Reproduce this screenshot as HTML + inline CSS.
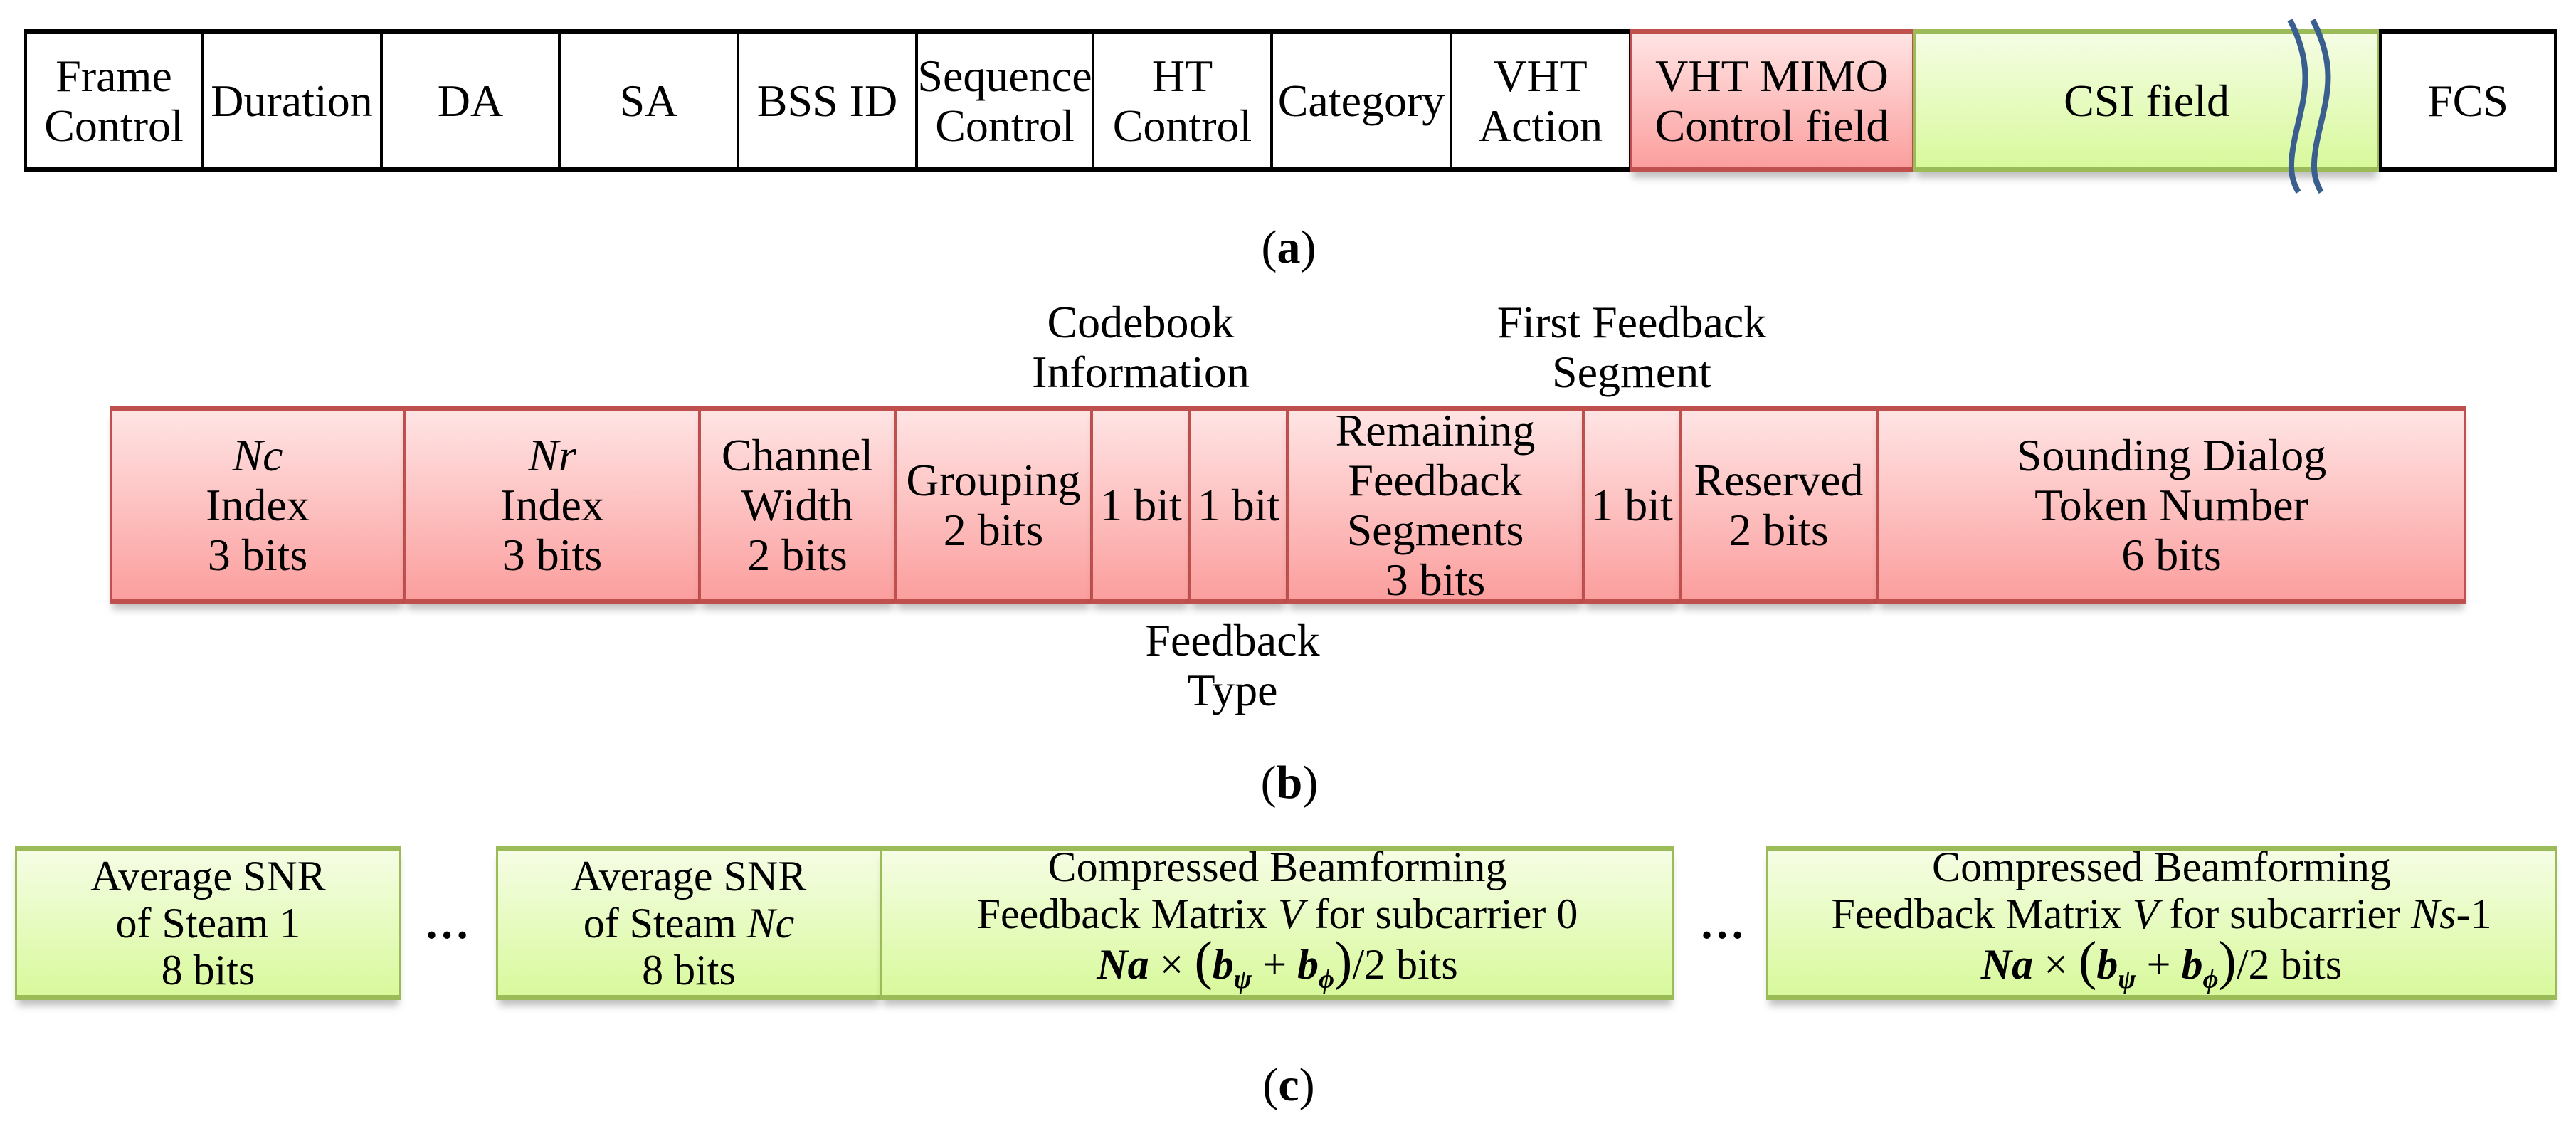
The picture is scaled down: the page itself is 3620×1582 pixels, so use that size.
<!DOCTYPE html>
<html><head><meta charset="utf-8"><style>
body{margin:0;width:3620px;height:1582px;background:#fff;position:relative;overflow:hidden;font-family:"Liberation Serif","DejaVu Serif",serif;color:#000}
.c{position:absolute;display:flex;align-items:center;justify-content:center;text-align:center;box-sizing:border-box;font-size:64px;line-height:70px;white-space:nowrap}
.w{border:4px solid #000;background:#fff;border-top-width:7px;border-bottom-width:7px}
.p{background:linear-gradient(#ffe4e4,#fb9f9e);border:3px solid #c0504d;border-top-width:7px;border-bottom-width:7px;box-shadow:0 12px 10px -4px rgba(0,0,0,0.25)}
.g{background:linear-gradient(#f5fde4,#d8f99c);border:3px solid #9bbb59;border-top-width:7px;border-bottom-width:7px;box-shadow:0 12px 10px -4px rgba(0,0,0,0.25)}
.t{position:absolute;text-align:center;font-size:64px;line-height:70px;white-space:nowrap;transform:translateX(-50%)}
.lab{position:absolute;font-size:66px;transform:translate(-50%,-50%)}
i{font-style:italic}
.r{font-size:60px;line-height:66px}
</style></head><body>
<!-- (a) -->
<div class="c w" style="left:34px;top:41px;width:252px;height:201px">Frame<br>Control</div>
<div class="c w" style="left:282px;top:41px;width:256px;height:201px">Duration</div>
<div class="c w" style="left:534px;top:41px;width:254px;height:201px">DA</div>
<div class="c w" style="left:784px;top:41px;width:255px;height:201px">SA</div>
<div class="c w" style="left:1035px;top:41px;width:255px;height:201px">BSS ID</div>
<div class="c w" style="left:1286px;top:41px;width:252px;height:201px">Sequence<br>Control</div>
<div class="c w" style="left:1534px;top:41px;width:255px;height:201px">HT<br>Control</div>
<div class="c w" style="left:1785px;top:41px;width:256px;height:201px">Category</div>
<div class="c w" style="left:2037px;top:41px;width:256px;height:201px">VHT<br>Action</div>
<div class="c p" style="left:2290px;top:41px;width:400px;height:201px">VHT MIMO<br>Control field</div>
<div class="c g" style="left:2689px;top:41px;width:655px;height:201px">CSI field</div>
<div class="c w" style="left:3343px;top:41px;width:250px;height:201px">FCS</div>
<svg style="position:absolute;left:3180px;top:20px" width="100" height="260" viewBox="0 0 100 260">
<path d="M38 8 C70 70,60 110,48 160 C36 210,38 230,50 250" fill="none" stroke="#3a5f8f" stroke-width="8"/>
<path d="M70 8 C102 70,92 110,80 160 C68 210,70 230,82 250" fill="none" stroke="#3a5f8f" stroke-width="8"/>
</svg>
<div class="lab" style="left:1811px;top:348px">(<b>a</b>)</div>
<!-- (b) -->
<div class="t" style="left:1603px;top:418px">Codebook<br>Information</div>
<div class="t" style="left:2293px;top:418px">First Feedback<br>Segment</div>
<div class="c p" style="left:154px;top:571px;width:416px;height:277px"><span><i>Nc</i><br>Index<br>3 bits</span></div>
<div class="c p" style="left:568px;top:571px;width:416px;height:277px"><span><i>Nr</i><br>Index<br>3 bits</span></div>
<div class="c p" style="left:982px;top:571px;width:277px;height:277px">Channel<br>Width<br>2 bits</div>
<div class="c p" style="left:1257px;top:571px;width:278px;height:277px">Grouping<br>2 bits</div>
<div class="c p" style="left:1533px;top:571px;width:140px;height:277px">1 bit</div>
<div class="c p" style="left:1671px;top:571px;width:139px;height:277px">1 bit</div>
<div class="c p" style="left:1808px;top:571px;width:418px;height:277px">Remaining<br>Feedback<br>Segments<br>3 bits</div>
<div class="c p" style="left:2224px;top:571px;width:138px;height:277px">1 bit</div>
<div class="c p" style="left:2360px;top:571px;width:279px;height:277px">Reserved<br>2 bits</div>
<div class="c p" style="left:2637px;top:571px;width:829px;height:277px">Sounding Dialog<br>Token Number<br>6 bits</div>
<div class="t" style="left:1732px;top:865px">Feedback<br>Type</div>
<div class="lab" style="left:1812px;top:1100px">(<b>b</b>)</div>
<!-- (c) -->
<div class="c g r" style="left:21px;top:1189px;width:543px;height:216px">Average SNR<br>of Steam 1<br>8 bits</div>
<div class="t" style="left:628px;top:1262px;font-weight:bold">…</div>
<div class="c g r" style="left:697px;top:1189px;width:542px;height:216px"><span>Average SNR<br>of Steam <i>Nc</i><br>8 bits</span></div>
<div class="c g r" style="left:1237px;top:1189px;width:1116px;height:216px"><span>Compressed Beamforming<br>Feedback Matrix <i>V</i> for subcarrier 0<br><b><i>Na</i></b> × <span style="font-size:76px">(</span><b><i>b</i></b><sub style="font-size:38px"><b><i>ψ</i></b></sub> + <b><i>b</i></b><sub style="font-size:38px"><b><i>ϕ</i></b></sub><span style="font-size:76px">)</span>/2 bits</span></div>
<div class="t" style="left:2420px;top:1262px;font-weight:bold">…</div>
<div class="c g r" style="left:2482px;top:1189px;width:1111px;height:216px"><span>Compressed Beamforming<br>Feedback Matrix <i>V</i> for subcarrier <i>Ns</i>-1<br><b><i>Na</i></b> × <span style="font-size:76px">(</span><b><i>b</i></b><sub style="font-size:38px"><b><i>ψ</i></b></sub> + <b><i>b</i></b><sub style="font-size:38px"><b><i>ϕ</i></b></sub><span style="font-size:76px">)</span>/2 bits</span></div>
<div class="lab" style="left:1811px;top:1525px">(<b>c</b>)</div>
</body></html>
